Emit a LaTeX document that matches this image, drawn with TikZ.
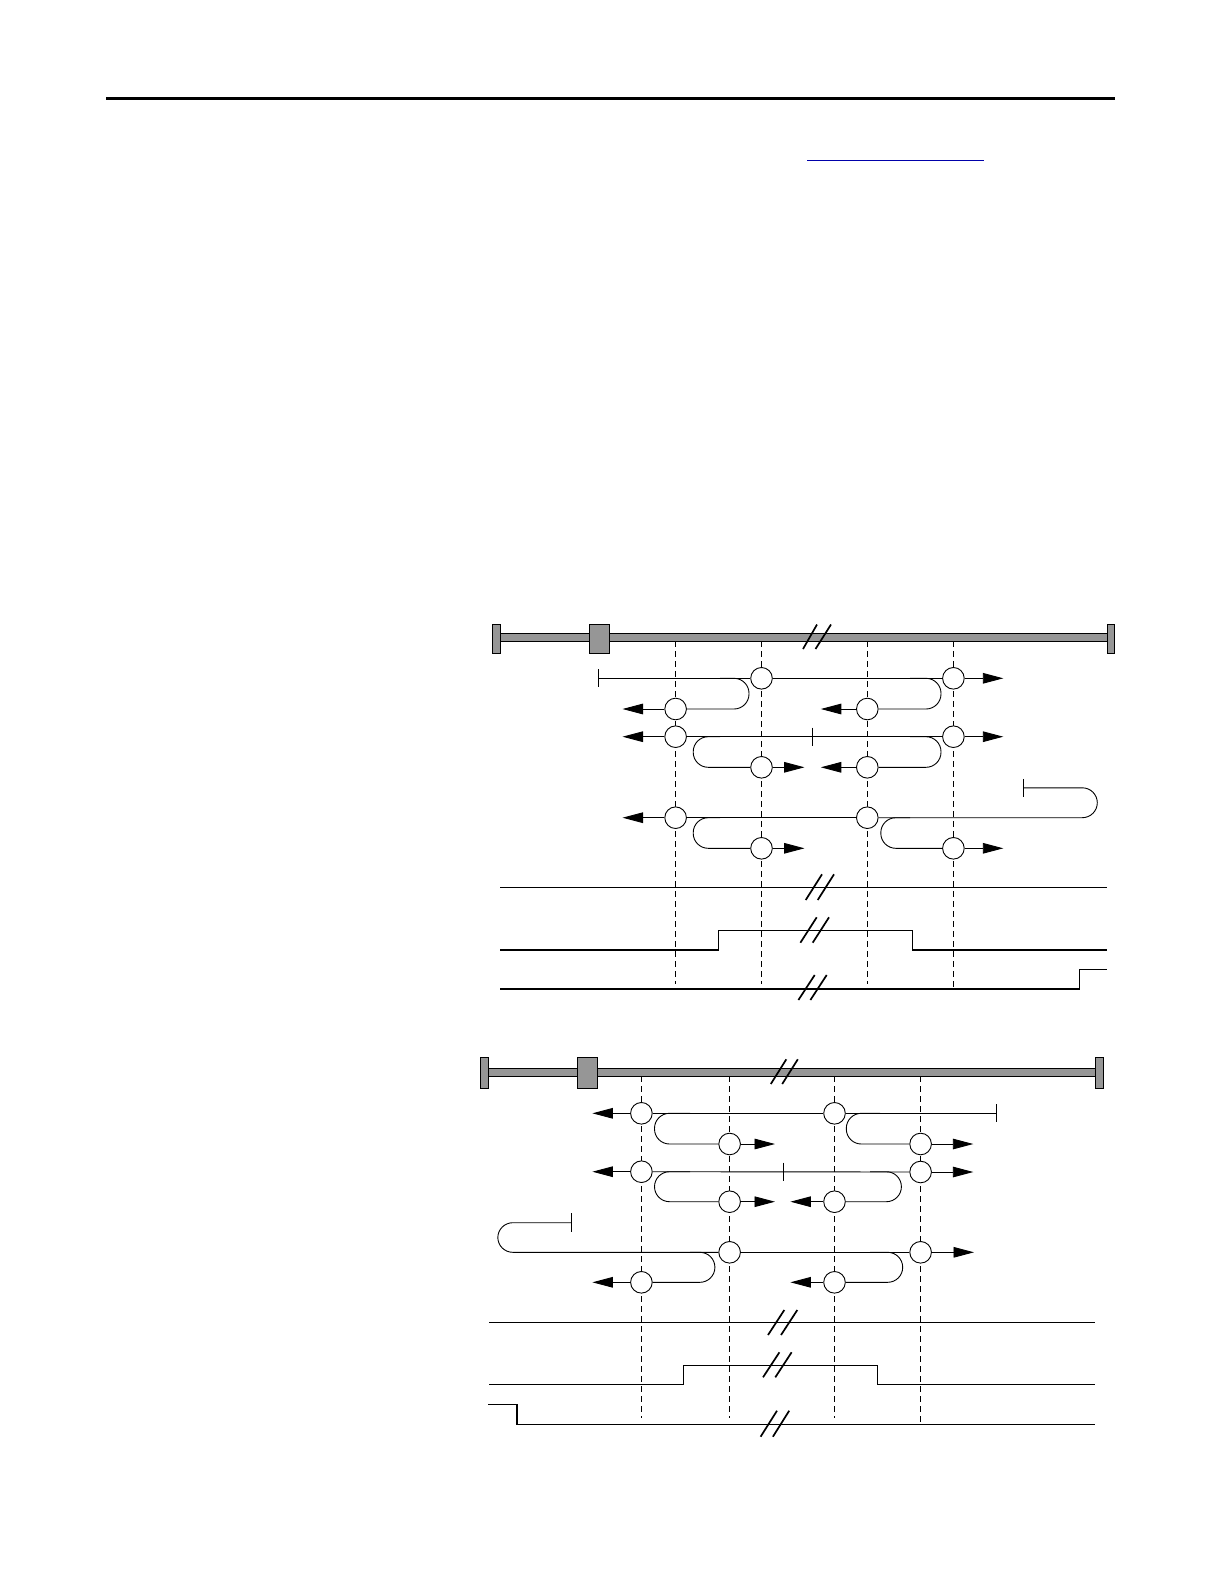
\documentclass[tikz,border=0pt]{standalone}
\usetikzlibrary{arrows.meta}
\definecolor{barfill}{RGB}{150,150,150}
\definecolor{linkblue}{RGB}{0,0,170}
\begin{document}
\begin{tikzpicture}[x=1pt,y=-1pt,
  ln/.style={line width=0.9pt},
  circ/.style={circle,draw,fill=white,minimum size=21.6pt,inner sep=0pt,line width=0.9pt},
  arr/.style={ln,-{Triangle[length=20.5pt,width=10.6pt]}},
  guide/.style={line width=0.9pt,dash pattern=on 6pt off 4pt},
  sig/.style={line width=1.2pt},
  brk/.style={line width=1.7pt},
  barpart/.style={draw,fill=barfill,line width=0.8pt},
  turn/.style={ln,rounded corners=15pt},
]
\useasboundingbox (0,0) rectangle (1224,1584);

% page rule and link underline
\draw[line width=2.8pt] (106,98.3) -- (1114.6,98.3);
\draw[linkblue,line width=1.3pt] (807.3,160.3) -- (983.7,160.3);

% ================= diagram 1 =================
\draw[barpart] (500.4,633.3) rectangle (1107.3,641);
\draw[barpart] (492.2,624) rectangle (500.4,653.3);
\draw[barpart] (589.4,624) rectangle (609.4,653.3);
\draw[barpart] (1107.3,624) rectangle (1114.7,653.3);
\draw[brk] (803,649) -- (817,624.5);
\draw[brk] (815.5,649) -- (831,624.5);

\draw[guide] (675.6,641) -- (675.6,984);
\draw[guide] (761.5,641) -- (761.5,984);
\draw[guide] (867.3,641) -- (867.3,984);
\draw[guide] (953.4,641) -- (953.4,989);

\node[circ] (a1) at (761.5,678.3) {};
\node[circ] (a2) at (953.4,678.3) {};
\node[circ] (a3) at (675.6,709) {};
\node[circ] (a4) at (867.3,709) {};
\node[circ] (b1) at (675.6,736.7) {};
\node[circ] (b2) at (953.4,736.7) {};
\node[circ] (b3) at (761.5,767.3) {};
\node[circ] (b4) at (867.3,767.3) {};
\node[circ] (c1) at (675.6,817.7) {};
\node[circ] (c2) at (867.3,817.7) {};
\node[circ] (c3) at (761.5,848.3) {};
\node[circ] (c4) at (953.4,848.3) {};

\coordinate (ta) at (598.3,678.3);
\coordinate (tb) at (812.7,736.7);
\coordinate (tc) at (1023.5,787.8);
\coordinate (ea2) at (1003.3,678.3);
\coordinate (ea3) at (622.5,709);
\coordinate (ea4) at (820.8,709);
\coordinate (eb1) at (622.5,736.7);
\coordinate (eb2) at (1003.3,736.7);
\coordinate (eb3) at (804.5,767.3);
\coordinate (eb4) at (820.8,767.3);
\coordinate (ec1) at (622.5,817.7);
\coordinate (ec3) at (804.5,848.3);
\coordinate (ec4) at (1003.3,848.3);

% row A
\draw[ln] ([yshift=9pt]ta) -- ([yshift=-9pt]ta);
\draw[ln] (ta) -- (a1);
\draw[ln] (a1) -- (a2);
\draw[arr] (a2) -- (ea2);
\draw[turn] (720,678.3) -- (749,678.3) -- (749,709) -- (a3);
\draw[arr] (a3) -- (ea3);
\draw[turn] (910,678.3) -- (941,678.3) -- (941,709) -- (a4);
\draw[arr] (a4) -- (ea4);
% row B
\draw[ln] ([yshift=9pt]tb) -- ([yshift=-9pt]tb);
\draw[arr] (b1) -- (eb1);
\draw[ln] (b1) -- (b2);
\draw[arr] (b2) -- (eb2);
\draw[turn] (720,736.7) -- (693.2,736.7) -- (693.2,767.3) -- (b3);
\draw[arr] (b3) -- (eb3);
\draw[turn] (910,736.7) -- (941,736.7) -- (941,767.3) -- (b4);
\draw[arr] (b4) -- (eb4);
% row C
\draw[ln] ([yshift=9pt]tc) -- ([yshift=-9pt]tc);
\draw[turn] (tc) -- (1097.3,787.8) -- (1097.3,817.7) -- (c2);
\draw[ln] (c2) -- (c1);
\draw[arr] (c1) -- (ec1);
\draw[turn] (720,817.7) -- (693.2,817.7) -- (693.2,848.3) -- (c3);
\draw[arr] (c3) -- (ec3);
\draw[turn] (910,817.7) -- (880.8,817.7) -- (880.8,848.3) -- (c4);
\draw[arr] (c4) -- (ec4);

% signals
\draw[sig] (500.4,887.3) -- (1106.5,887.3);
\draw[brk] (805.7,900) -- (822,874.3);
\draw[brk] (817.7,900) -- (834,874.3);
\draw[sig] (500.4,950) -- (718.8,950) -- (718.8,930.3) -- (912.2,930.3) -- (912.2,950) -- (1106.5,950);
\draw[brk] (800.4,942.7) -- (816.7,917.3);
\draw[brk] (812.7,942.7) -- (829,917.3);
\draw[sig] (500.4,989) -- (1079.2,989) -- (1079.2,969.3) -- (1106.5,969.3);
\draw[brk] (798.4,1000) -- (814.7,975);
\draw[brk] (810.4,1000) -- (826.7,975);

% ================= diagram 2 =================
\draw[barpart] (488.4,1068.7) rectangle (1095.7,1076.3);
\draw[barpart] (480.2,1057.3) rectangle (488.4,1088.3);
\draw[barpart] (577.3,1057.3) rectangle (597.3,1088.3);
\draw[barpart] (1095.7,1057.3) rectangle (1103.5,1088.3);
\draw[brk] (770.8,1084) -- (786.3,1059.3);
\draw[brk] (782.2,1084) -- (797.8,1059.3);

\draw[guide] (641.4,1076.3) -- (641.4,1417.7);
\draw[guide] (729.6,1076.3) -- (729.6,1417.7);
\draw[guide] (834.5,1076.3) -- (834.5,1417.7);
\draw[guide] (920.6,1076.3) -- (920.6,1424.3);

\node[circ] (d1) at (641.4,1113.3) {};
\node[circ] (d2) at (834.5,1113.3) {};
\node[circ] (d3) at (729.6,1144) {};
\node[circ] (d4) at (920.6,1144) {};
\node[circ] (e1) at (641.4,1171.7) {};
\node[circ] (e2) at (920.6,1172) {};
\node[circ] (e3) at (729.6,1201.7) {};
\node[circ] (e4) at (834.5,1201.7) {};
\node[circ] (f1) at (729.6,1252.3) {};
\node[circ] (f2) at (920.6,1252.3) {};
\node[circ] (f3) at (641.4,1282.3) {};
\node[circ] (f4) at (834.5,1282.3) {};

\coordinate (td) at (996.5,1113.3);
\coordinate (te) at (783.5,1171.7);
\coordinate (tf) at (571,1222.7);
\coordinate (ed1) at (592.4,1113.3);
\coordinate (ed3) at (775,1144);
\coordinate (ed4) at (973.3,1144);
\coordinate (ee1) at (592.4,1171.7);
\coordinate (ee2) at (973.3,1172);
\coordinate (ee3) at (775,1201.7);
\coordinate (ee4) at (790.4,1201.7);
\coordinate (ef2) at (974,1252.3);
\coordinate (ef3) at (592.4,1282.3);
\coordinate (ef4) at (790.4,1282.3);

% row D
\draw[arr] (d1) -- (ed1);
\draw[ln] (d1) -- (d2);
\draw[ln] (d2) -- (td);
\draw[ln] ([yshift=9pt]td) -- ([yshift=-9pt]td);
\draw[turn] (690,1113.3) -- (654.5,1113.3) -- (654.5,1144) -- (d3);
\draw[arr] (d3) -- (ed3);
\draw[turn] (880,1113.3) -- (846.3,1113.3) -- (846.3,1144) -- (d4);
\draw[arr] (d4) -- (ed4);
% row E
\draw[ln] ([yshift=9pt]te) -- ([yshift=-9pt]te);
\draw[arr] (e1) -- (ee1);
\draw[ln] (e1) -- (e2);
\draw[arr] (e2) -- (ee2);
\draw[turn] (690,1171.7) -- (654.5,1171.7) -- (654.5,1201.7) -- (e3);
\draw[arr] (e3) -- (ee3);
\draw[turn] (870,1171.7) -- (901.4,1171.7) -- (901.4,1201.7) -- (e4);
\draw[arr] (e4) -- (ee4);
% row F
\draw[ln] ([yshift=9.5pt]tf) -- ([yshift=-9.5pt]tf);
\draw[turn] (tf) -- (497.8,1222.7) -- (497.8,1252.3) -- (f1);
\draw[ln] (f1) -- (f2);
\draw[arr] (f2) -- (ef2);
\draw[turn] (690,1252.3) -- (714.9,1252.3) -- (714.9,1282.3) -- (f3);
\draw[arr] (f3) -- (ef3);
\draw[turn] (870,1252.3) -- (902.7,1252.3) -- (902.7,1282.3) -- (f4);
\draw[arr] (f4) -- (ef4);

% signals
\draw[sig] (489.2,1322.3) -- (1094.5,1322.3);
\draw[brk] (768,1335) -- (784.3,1310);
\draw[brk] (781,1335) -- (797.3,1310);
\draw[sig] (489.2,1384.5) -- (683.5,1384.5) -- (683.5,1365.7) -- (877.3,1365.7) -- (877.3,1384.5) -- (1094.5,1384.5);
\draw[brk] (763,1377.3) -- (779.4,1352.3);
\draw[brk] (775.3,1377.3) -- (791.6,1352.3);
\draw[sig] (488.4,1404.3) -- (517,1404.3) -- (517,1424.3) -- (1094.5,1424.3);
\draw[brk] (760.6,1436.7) -- (777,1410.7);
\draw[brk] (772.9,1436.7) -- (789.2,1410.7);
\end{tikzpicture}
\end{document}
